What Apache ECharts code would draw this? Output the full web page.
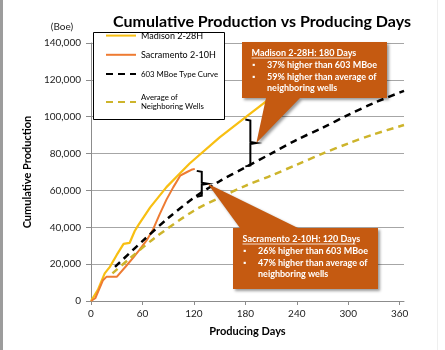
<!DOCTYPE html>
<html>
<head>
<meta charset="utf-8">
<script src="https://cdn.jsdelivr.net/npm/echarts@6/dist/echarts.min.js"></script>
<style>
  html, body { margin: 0; padding: 0; background: #fff; }
  #chart { width: 445px; height: 350px; }
</style>
</head>
<body>
<div id="chart"></div>
<script>
// values (days, Boe)
const madisonDays = [0, 8, 16, 22, 30, 38, 45, 51, 55, 69, 88, 115, 150, 180, 205, 215];
const madisonBoe = [0, 6000, 15000, 18500, 25000, 31000, 31500, 38000, 41000, 50800, 61800, 74600, 88800, 99600, 108600, 111500];

const sacDays = [0, 5, 14, 18, 30, 41, 50, 57, 65, 72, 80, 88, 96, 104, 112, 117, 121];
const sacBoe = [0, 1500, 11300, 13100, 13100, 19000, 24000, 28000, 33000, 38500, 47000, 55000, 61800, 68000, 70000, 71200, 71700];

const typeDays = [28, 60, 90, 120, 150, 180, 210, 240, 270, 300, 330, 365];
const typeBoe = [18500, 32500, 45000, 56000, 65000, 72500, 80000, 87500, 94000, 101000, 107500, 114000];

const avgDays = [25, 45, 75, 120, 150, 180, 210, 240, 270, 300, 330, 365];
const avgBoe = [15000, 23000, 34500, 49000, 56000, 62500, 68000, 74000, 80000, 85500, 90500, 95500];

const xTicks = [0, 60, 120, 180, 240, 300, 360];

const seriesNames = ['Madison 2-28H', 'Sacramento 2-10H', '603 MBoe Type Curve', 'Average of Neighboring Wells'];

const FONT = 'Lato';
const pairs = (xs, ys) => xs.map((x, i) => [x, ys[i]]);

const chart = echarts.init(document.getElementById('chart'));

const legendBase = {
  orient: 'vertical',
  left: 105,
  padding: 0,
  itemWidth: 30,
  itemHeight: 14,
  z: 6,
  itemStyle: { opacity: 0 }
};

const option = {
  animation: false,
  backgroundColor: '#fff',
  title: {
    text: 'Cumulative Production vs Producing Days',
    left: 108,
    top: 9,
    textStyle: { fontFamily: FONT, fontWeight: 'bold', fontSize: 16, color: '#000' }
  },
  grid: { left: 91, right: 41, top: 43, bottom: 49 },
  legend: [
    Object.assign({}, legendBase, {
      top: 30,
      itemGap: 8,
      data: [
        { name: seriesNames[0], textStyle: { fontSize: 9 } },
        { name: seriesNames[1], textStyle: { fontSize: 9 } },
        { name: seriesNames[2], textStyle: { fontSize: 7.8 } }
      ],
      textStyle: { fontFamily: FONT, color: '#000', fontSize: 9 }
    }),
    Object.assign({}, legendBase, {
      top: 87,
      data: [seriesNames[3]],
      formatter: () => 'Average of\nNeighboring Wells',
      textStyle: { fontFamily: FONT, color: '#000', fontSize: 7.8, lineHeight: 9, padding: [12, 0, 0, 0] }
    })
  ],
  xAxis: {
    type: 'value',
    min: 0,
    max: 365,
    interval: 60,
    name: 'Producing Days',
    nameLocation: 'middle',
    nameGap: 25,
    nameTextStyle: { fontFamily: FONT, fontWeight: 'bold', fontSize: 11, color: '#000' },
    axisLine: { show: true, lineStyle: { color: '#8c8c8c' } },
    axisTick: { show: true, length: 4, customValues: xTicks, lineStyle: { color: '#8c8c8c' } },
    axisLabel: { customValues: xTicks, fontFamily: FONT, fontSize: 10, color: '#222', margin: 8 },
    splitLine: { show: false }
  },
  yAxis: {
    type: 'value',
    min: 0,
    max: 140000,
    interval: 20000,
    name: 'Cumulative Production',
    nameLocation: 'middle',
    nameGap: 46,
    nameTextStyle: { fontFamily: FONT, fontWeight: 'bold', fontSize: 11, color: '#000' },
    axisLine: { show: true, lineStyle: { color: '#8c8c8c' } },
    axisTick: { show: true, length: 5, lineStyle: { color: '#8c8c8c' } },
    axisLabel: { fontFamily: FONT, fontSize: 10, color: '#222', margin: 10 },
    splitLine: { show: true, lineStyle: { color: '#a6a6a6', width: 1 } }
  },
  series: [
    {
      name: seriesNames[0],
      type: 'line',
      symbol: 'none',
      color: '#F8BF12',
      lineStyle: { width: 2.2 },
      data: pairs(madisonDays, madisonBoe)
    },
    {
      name: seriesNames[1],
      type: 'line',
      symbol: 'none',
      color: '#EE7B32',
      lineStyle: { width: 2 },
      data: pairs(sacDays, sacBoe)
    },
    {
      name: seriesNames[2],
      type: 'line',
      symbol: 'none',
      smooth: 0.3,
      color: '#000',
      lineStyle: { width: 2.5, type: [7, 5] },
      data: pairs(typeDays, typeBoe)
    },
    {
      name: seriesNames[3],
      type: 'line',
      symbol: 'none',
      smooth: 0.3,
      color: '#CDB42B',
      lineStyle: { width: 2.5, type: [7, 5] },
      data: pairs(avgDays, avgBoe)
    }
  ]
};

chart.setOption(option);

// annotations: brackets placed from the data, callouts pointing at them
const px = (d, v) => chart.convertToPixel({ gridIndex: 0 }, [d, v]);

function bracket(day, top, bottom, dx) {
  const a = px(day, top), b = px(day, bottom);
  const x0 = a[0] + dx, yt = a[1] + 2, yb = b[1] - 1, ym = (yt + yb) / 2;
  return {
    tip: [x0 + 11, ym],
    el: {
      type: 'polyline',
      z: 10,
      shape: { points: [[x0, yt], [x0 + 5, yt + 1], [x0 + 5, ym - 1], [x0 + 11, ym], [x0 + 5, ym + 1], [x0 + 5, yb - 1], [x0, yb]] },
      style: { stroke: '#000', lineWidth: 2, fill: null }
    }
  };
}

const b1 = bracket(180, madisonBoe[madisonDays.indexOf(180)], typeBoe[typeDays.indexOf(180)], 0);
const b2 = bracket(sacDays[sacDays.length - 1], sacBoe[sacBoe.length - 1], typeBoe[typeDays.indexOf(120)], 2);

const calloutStyle = {
  fill: '#C55A11',
  shadowBlur: 3,
  shadowOffsetX: 2,
  shadowOffsetY: 2,
  shadowColor: 'rgba(0,0,0,0.4)'
};

// white bold text; y is the centre of the first line
function txt(x, y, s, size) {
  return {
    type: 'text', x: x, y: y - 5.75, z: 12,
    style: { text: s, fill: '#fff', fontFamily: FONT, fontWeight: 'bold', fontSize: size, lineHeight: 11.5, verticalAlign: 'top' }
  };
}
function underline(x1, x2, y) {
  return { type: 'line', z: 12, shape: { x1: x1, y1: y, x2: x2, y2: y }, style: { stroke: '#fff', lineWidth: 0.8 } };
}

function callout(box, wedge, tip, title, lines, tx) {
  const [x1, y1, x2, y2] = box;
  const els = [{
    type: 'polygon', z: 11,
    shape: { points: wedge(x1, y1, x2, y2, tip) },
    style: calloutStyle
  }];
  const ty = y1 + 11.5;
  els.push(txt(x1 + 9.5, ty, title, 9));
  els.push(underline(x1 + 9.5, x1 + 9.5 + (title.length > 24 ? 113 : 99), ty + 4.5));
  els.push(txt(x1 + 10.5, ty + 11.7, '▪', 7));
  els.push(txt(x1 + 10.5, ty + 23.2, '▪', 7));
  els.push(txt(x1 + tx, ty + 11.7, lines.join('\n'), 9));
  return els;
}

const graphics = [
  // frame marks at the edges
  { type: 'rect', z: 1, shape: { x: 0, y: 0, width: 3, height: 350 }, style: { fill: '#9c9c9c' } },
  { type: 'rect', z: 1, shape: { x: 437, y: 0, width: 1, height: 350 }, style: { fill: '#efefef' } },
  // legend frame
  { type: 'rect', z: 3, shape: { x: 93.5, y: 32.5, width: 131, height: 87 }, style: { fill: '#fff', stroke: '#000', lineWidth: 1 } },
  { type: 'text', x: 62, y: 27, z: 3, style: { text: '(Boe)', fontFamily: FONT, fontSize: 10, fill: '#222', align: 'center', verticalAlign: 'middle' } },
  b1.el,
  b2.el
].concat(
  callout([242, 42, 387, 98],
    (x1, y1, x2, y2, t) => [[x1, y1], [x2, y1], [x2, y2], [300, y2], t, [266, y2], [x1, y2]],
    b1.tip, 'Madison 2-28H: 180 Days',
    ['37% higher than 603 MBoe', '59% higher than average of', 'neighboring wells'], 25),
  callout([233, 228, 378, 289],
    (x1, y1, x2, y2, t) => [[x1, y1], [240, y1], t, [298, y1], [x2, y1], [x2, y2], [x1, y2]],
    b2.tip, 'Sacramento 2-10H: 120 Days',
    ['26% higher than 603 MBoe', '47% higher than average of', 'neighboring wells'], 25)
);

chart.setOption({ graphic: graphics });
</script>
</body>
</html>
